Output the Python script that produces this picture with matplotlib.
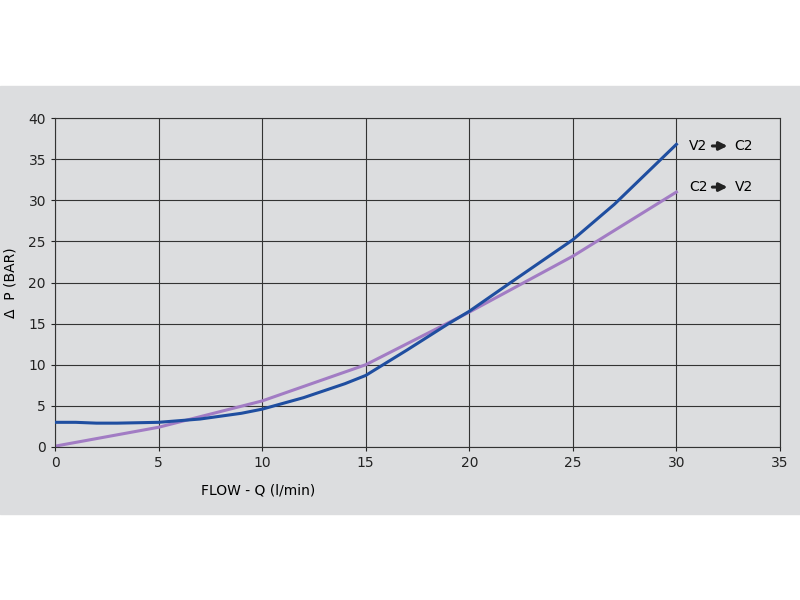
import matplotlib
matplotlib.use("Agg")
import matplotlib.pyplot as plt
import numpy as np
from matplotlib.patches import Rectangle

blue_x = [0, 1, 2, 3, 5, 7, 9, 10, 12, 14, 15, 17, 19, 20, 22, 25, 27, 30]
blue_y = [3.0, 3.0, 2.9, 2.9, 3.0, 3.4, 4.1, 4.6, 6.0, 7.7, 8.7, 11.8, 15.0, 16.5, 20.0, 25.2, 29.5, 36.8]
purple_x = [0, 5, 10, 15, 20, 25, 30]
purple_y = [0.1, 2.4, 5.6, 10.0, 16.4, 23.2, 31.0]
xticks = [0, 5, 10, 15, 20, 25, 30, 35]
yticks = [0, 5, 10, 15, 20, 25, 30, 35, 40]

fig = plt.figure(figsize=(8, 6), dpi=100)
fig.patches.append(Rectangle((0, 86/600), 1, 428/600, transform=fig.transFigure,
                             color="#dcdddf", zorder=-5))
ax = fig.add_axes([55/800, 1-447/600, 725/800, 329/600])
ax.set_zorder(5)
ax.set_facecolor("#dcdddf")
ax.plot(blue_x, blue_y, color="#1f4ea0", lw=2.2, zorder=3)
ax.plot(purple_x, purple_y, color="#a27cc4", lw=2.2, zorder=2)
ax.set_xlim(0, 35); ax.set_ylim(0, 40)
ax.set_xticks(xticks); ax.set_yticks(yticks)
ax.grid(True, color="#333333", lw=0.8)
for s in ax.spines.values():
    s.set_color("#333333"); s.set_linewidth(0.8)
ax.tick_params(labelsize=10, colors="#222222", length=3)
ax.set_xlabel("FLOW - Q (l/min)", fontsize=10, labelpad=10, x=0.28)
ax.set_ylabel("Δ  P (BAR)", fontsize=10, labelpad=8)

for lab1, lab2, y in [("V2", "C2", 36.6), ("C2", "V2", 31.6)]:
    ax.text(30.6, y, lab1, fontsize=10, va="center", ha="left")
    ax.annotate("", xy=(32.6, y), xytext=(31.6, y),
                arrowprops=dict(arrowstyle="-|>", color="#222222", lw=2.2, mutation_scale=12))
    ax.text(32.8, y, lab2, fontsize=10, va="center", ha="left")

fig.savefig("out.png", dpi=100)
